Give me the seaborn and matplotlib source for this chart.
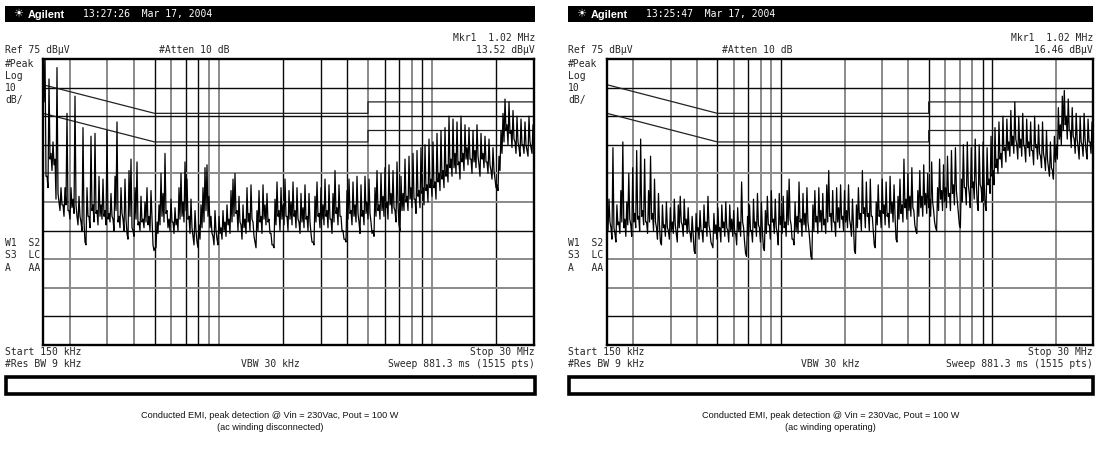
import numpy as np
import matplotlib
matplotlib.use("Agg")
import matplotlib.pyplot as plt
from matplotlib.patches import Rectangle
import seaborn as sns

W, H = 1095, 457

# Sweep and display settings (MHz, dBµV)
F_START, F_STOP = 0.15, 30.0
REF_LEVEL, BOTTOM_LEVEL = 75, -25

# Peak-detector readings per display bin, log-spaced across the sweep (dBµV):
# *_hi is the upper excursion in each bin, *_lo the lower one.
disconnected_hi = [
    72, 78, 34, 68, 42, 46, 40, 72, 25, 30,
    24, 30, 56, 22, 30, 26, 62, 20, 27, 18,
    51, 11, 30, 20, 48, 24, 49, 22, 34, 24,
    33, 22, 50, 21, 28, 19, 34, 53, 20, 30,
    19, 33, 14, 36, 40, 15, 30, 39, 18, 27,
    19, 25, 30, 20, 29, 10, 9, 18, 24, 35,
    28, 42, 22, 19, 26, 18, 23, 19, 30, 35,
    25, 39, 33, 20, 26, 13, 22, 11, 17, 24,
    30, 37, 38, 27, 20, 13, 22, 12, 20, 16,
    22, 18, 24, 19, 29, 33, 35, 22, 27, 17,
    24, 19, 30, 21, 31, 18, 11, 22, 29, 20,
    31, 24, 28, 19, 14, 10, 26, 32, 22, 30,
    24, 33, 20, 29, 25, 32, 22, 30, 18, 28,
    23, 31, 20, 28, 14, 11, 27, 32, 21, 30,
    24, 33, 22, 31, 19, 28, 36, 23, 31, 20,
    15, 12, 29, 33, 22, 32, 24, 34, 18, 31,
    22, 34, 25, 33, 18, 15, 30, 36, 24, 35,
    27, 37, 25, 38, 28, 36, 22, 39, 17, 34,
    28, 40, 27, 41, 30, 42, 26, 43, 29, 44,
    30, 45, 31, 47, 33, 46, 32, 49, 35, 50,
    36, 51, 38, 55, 40, 54, 42, 53, 39, 55,
    42, 52, 44, 51, 40, 50, 43, 52, 38, 49,
    42, 48, 39, 47, 36, 44, 33, 31, 41, 50,
    56, 61, 52, 60, 50, 57, 46, 55, 44, 54,
    45, 53, 43, 55, 44, 52,
]
disconnected_lo = [
    60, 34, 30, 40, 36, 38, 26, 28, 22, 24,
    20, 24, 22, 19, 23, 21, 24, 17, 20, 15,
    18, 10, 20, 16, 22, 18, 21, 17, 20, 19,
    20, 17, 19, 18, 20, 15, 22, 18, 16, 21,
    15, 19, 12, 20, 16, 13, 19, 17, 15, 18,
    16, 18, 17, 15, 19, 8, 9, 14, 17, 20,
    18, 21, 16, 15, 18, 14, 17, 15, 19, 20,
    18, 22, 19, 14, 16, 10, 15, 9, 12, 16,
    18, 22, 20, 16, 14, 10, 15, 10, 14, 12,
    15, 13, 17, 14, 18, 20, 21, 15, 18, 12,
    16, 14, 18, 15, 19, 13, 9, 15, 18, 14,
    19, 17, 18, 14, 10, 9, 17, 20, 15, 19,
    17, 20, 15, 19, 17, 20, 16, 19, 14, 18,
    16, 19, 15, 18, 11, 10, 18, 20, 16, 19,
    17, 20, 16, 19, 14, 18, 21, 17, 20, 15,
    12, 11, 19, 21, 17, 20, 18, 21, 14, 20,
    17, 21, 19, 21, 14, 13, 20, 22, 19, 22,
    20, 23, 19, 24, 21, 23, 18, 24, 15, 22,
    22, 25, 22, 26, 23, 26, 21, 27, 23, 28,
    24, 29, 25, 30, 27, 30, 26, 32, 29, 33,
    30, 34, 32, 37, 34, 37, 35, 38, 33, 39,
    36, 40, 38, 40, 35, 39, 37, 41, 34, 40,
    37, 39, 35, 38, 33, 36, 30, 29, 36, 42,
    46, 50, 45, 49, 44, 47, 42, 46, 41, 45,
    42, 45, 41, 46, 42, 44,
]

operating_hi = [
    20, 26, 16, 44, 14, 24, 18, 29, 46, 19,
    25, 35, 17, 37, 21, 43, 20, 47, 22, 40,
    18, 29, 41, 21, 33, 16, 28, 11, 24, 17,
    25, 15, 23, 18, 26, 14, 24, 27, 17, 26,
    19, 23, 14, 20, 8, 21, 16, 22, 15, 24,
    18, 27, 15, 10, 21, 17, 23, 16, 24, 18,
    25, 15, 24, 19, 22, 14, 23, 18, 32, 16,
    7, 20, 24, 15, 26, 18, 28, 16, 25, 9,
    22, 27, 17, 29, 19, 26, 14, 28, 20, 27,
    18, 29, 33, 17, 12, 25, 20, 32, 19, 28,
    21, 30, 15, 6, 24, 29, 20, 30, 22, 28,
    19, 31, 36, 21, 29, 18, 30, 23, 31, 20,
    29, 22, 31, 17, 26, 8, 24, 30, 21, 36,
    23, 32, 21, 33, 20, 10, 25, 31, 22, 33,
    24, 32, 21, 34, 25, 31, 12, 27, 33, 24,
    40, 26, 35, 27, 37, 22, 15, 29, 36, 27,
    38, 28, 35, 26, 39, 22, 16, 30, 40, 29,
    38, 30, 41, 28, 43, 31, 44, 25, 17, 33,
    45, 30, 46, 28, 44, 32, 47, 25, 45, 30,
    46, 24, 44, 33, 48, 36, 51, 40, 53, 42,
    55, 44, 54, 46, 57, 48, 60, 45, 55, 47,
    56, 44, 54, 46, 53, 43, 55, 45, 52, 41,
    53, 40, 50, 37, 46, 36, 48, 45, 58, 52,
    62, 64, 55, 61, 50, 58, 47, 56, 44, 55,
    45, 56, 43, 54, 46, 53,
]
operating_lo = [
    15, 18, 12, 16, 11, 17, 14, 18, 16, 13,
    17, 19, 13, 18, 16, 19, 15, 20, 17, 18,
    14, 18, 19, 15, 18, 12, 17, 10, 16, 13,
    16, 12, 15, 14, 17, 11, 16, 18, 13, 17,
    14, 15, 11, 14, 7, 15, 12, 15, 11, 16,
    13, 17, 11, 9, 14, 12, 15, 11, 16, 13,
    16, 11, 15, 13, 14, 10, 15, 13, 18, 11,
    6, 13, 15, 11, 16, 13, 17, 11, 15, 8,
    14, 17, 12, 18, 14, 16, 10, 17, 14, 16,
    13, 17, 19, 12, 10, 15, 14, 18, 13, 17,
    15, 18, 11, 5, 15, 18, 14, 18, 15, 17,
    14, 18, 20, 15, 18, 13, 18, 16, 19, 15,
    18, 16, 19, 13, 17, 7, 16, 19, 15, 21,
    16, 20, 15, 20, 15, 9, 17, 20, 16, 21,
    17, 20, 16, 21, 18, 20, 11, 19, 21, 18,
    23, 19, 22, 20, 23, 17, 14, 20, 23, 20,
    24, 21, 23, 20, 25, 18, 15, 22, 26, 22,
    25, 23, 27, 22, 28, 24, 29, 21, 16, 25,
    30, 24, 31, 23, 30, 26, 32, 22, 31, 25,
    32, 22, 31, 28, 34, 31, 37, 35, 40, 37,
    43, 39, 43, 41, 45, 42, 47, 40, 44, 41,
    45, 39, 44, 41, 43, 38, 44, 40, 42, 37,
    42, 36, 40, 34, 37, 33, 39, 40, 47, 45,
    50, 52, 47, 50, 44, 48, 42, 47, 40, 46,
    41, 47, 40, 46, 42, 45,
]

# EN 55022 class B limit lines: quasi-peak and average (MHz, dBµV)
limit_freq = [0.15, 0.5, 5, 5, 30]
limit_qp = [66, 56, 56, 60, 60]
limit_avg = [56, 46, 46, 50, 50]

# Log-frequency graticule
grid_freq = [0.2, 0.3, 0.4, 0.5, 0.6, 0.7, 0.8, 0.9, 1, 2, 3, 4, 5, 6, 7, 8, 9, 10, 20]
grid_level = [65, 55, 45, 35, 25, 15, 5, -5, -15]
grid_level_tone = ["k", "k", "k", "g", "g", "k", "g", "g", "k"]

panels = [
    dict(hi=disconnected_hi, lo=disconnected_lo, time="13:27:26  Mar 17, 2004",
         marker_freq="Mkr1  1.02 MHz", marker_level="13.52 dBµV",
         caption=["Conducted EMI, peak detection @ Vin = 230Vac, Pout = 100 W",
                  "(ac winding disconnected)"],
         vtone=["g", "g", "g", "k", "g", "k", "k", "g", "g", "k",
                "k", "k", "g", "k", "k", "g", "k", "g", "k"],
         x0=5, x1=535, px0=43, px1=534),
    dict(hi=operating_hi, lo=operating_lo, time="13:25:47  Mar 17, 2004",
         marker_freq="Mkr1  1.02 MHz", marker_level="16.46 dBµV",
         caption=["Conducted EMI, peak detection @ Vin = 230Vac, Pout = 100 W",
                  "(ac winding operating)"],
         vtone=["g", "g", "g", "k", "g", "k", "g", "g", "k", "g",
                "g", "g", "k", "g", "g", "g", "k", "k", "g"],
         x0=568, x1=1093, px0=607, px1=1093),
]

sns.set_theme(style="white")
plt.rcParams["font.family"] = ["DejaVu Sans"]

fig = plt.figure(figsize=(W / 100, H / 100), dpi=100)
fig.patch.set_facecolor("white")

PLOT_TOP, PLOT_BOTTOM = 59, 345
MONO = "DejaVu Sans Mono"
MONO_SIZE = 7.0


def fx(x):
    return x / W


def fy(y):
    return 1 - y / H


def label(x, y, s, ha="left", size=MONO_SIZE, family=MONO, **kw):
    fig.text(fx(x), fy(y), s, ha=ha, va="center", fontsize=size,
             family=family, **kw)


TONES = {"k": dict(color="#0a0a0a", lw=1.0), "g": dict(color="#8a8a8a", lw=1.4)}

for p in panels:
    x0, x1, px0, px1 = p["x0"], p["x1"], p["px0"], p["px1"]

    # title bar
    fig.patches.append(Rectangle((fx(x0), fy(22)), fx(x1) - fx(x0), fy(6) - fy(22),
                                 transform=fig.transFigure, facecolor="black",
                                 edgecolor="none"))
    label(x0 + 8, 14, "☀", size=8.0, family="DejaVu Sans", color="white")
    label(x0 + 23, 14.5, "Agilent", size=7.8, family="Liberation Sans",
          color="white", fontweight="bold")
    label(x0 + 78, 14, p["time"], size=7.0, color="white")

    label(x1, 38, p["marker_freq"], ha="right")
    label(x1, 50, p["marker_level"], ha="right")
    label(x0, 50, "Ref 75 dBµV")
    label(x0 + 154, 50, "#Atten 10 dB")
    for yy, s in zip([64, 76, 88, 100], ["#Peak", "Log", "10", "dB/"]):
        label(x0, yy, s)
    for yy, s in zip([243, 255, 268], ["W1  S2", "S3  LC", "A   AA"]):
        label(x0, yy, s)
    label(x0, 352, "Start 150 kHz")
    label(x1, 352, "Stop 30 MHz", ha="right")
    label(x0, 364, "#Res BW 9 kHz")
    label((x0 + x1) / 2, 364, "VBW 30 kHz", ha="center")
    label(x1, 364, "Sweep 881.3 ms (1515 pts)", ha="right")

    # empty status box
    fig.patches.append(Rectangle((fx(x0 + 1), fy(394)), fx(x1) - fx(x0 + 1), fy(377) - fy(394),
                                 transform=fig.transFigure, facecolor="white",
                                 edgecolor="black", lw=2.6))

    cx = (x0 + x1) / 2
    label(cx, 415, p["caption"][0], ha="center", size=6.6, family="Liberation Sans",
          color="#111111")
    label(cx, 428, p["caption"][1], ha="center", size=6.6, family="Liberation Sans",
          color="#111111")

    # spectrum display
    ax = fig.add_axes([fx(px0), fy(PLOT_BOTTOM), fx(px1) - fx(px0),
                       fy(PLOT_TOP) - fy(PLOT_BOTTOM)])
    ax.set_facecolor("white")
    ax.set_xscale("log")
    ax.set_xlim(F_START, F_STOP)
    ax.set_ylim(BOTTOM_LEVEL, REF_LEVEL)

    for f, t in zip(grid_freq, p["vtone"]):
        ax.axvline(f, zorder=1, **TONES[t])
    for lv, t in zip(grid_level, grid_level_tone):
        ax.axhline(lv, zorder=1, **TONES[t])

    ax.plot(limit_freq, limit_qp, color="#222222", lw=0.9, zorder=2)
    ax.plot(limit_freq, limit_avg, color="#222222", lw=0.9, zorder=2)

    # trace: each bin swings from its upper to its lower reading
    levels = np.column_stack([p["hi"], p["lo"]]).ravel()
    freqs = np.geomspace(F_START, F_STOP, len(levels))
    sns.lineplot(x=freqs, y=levels, ax=ax, color="black", linewidth=0.9,
                 estimator=None, sort=False, zorder=3)

    ax.set_xticks([])
    ax.set_yticks([])
    ax.minorticks_off()
    ax.set_xlabel("")
    ax.set_ylabel("")
    for s in ax.spines.values():
        s.set_visible(True)
        s.set_color("black")
        s.set_linewidth(1.7)

fig.savefig("out.png", dpi=100)
